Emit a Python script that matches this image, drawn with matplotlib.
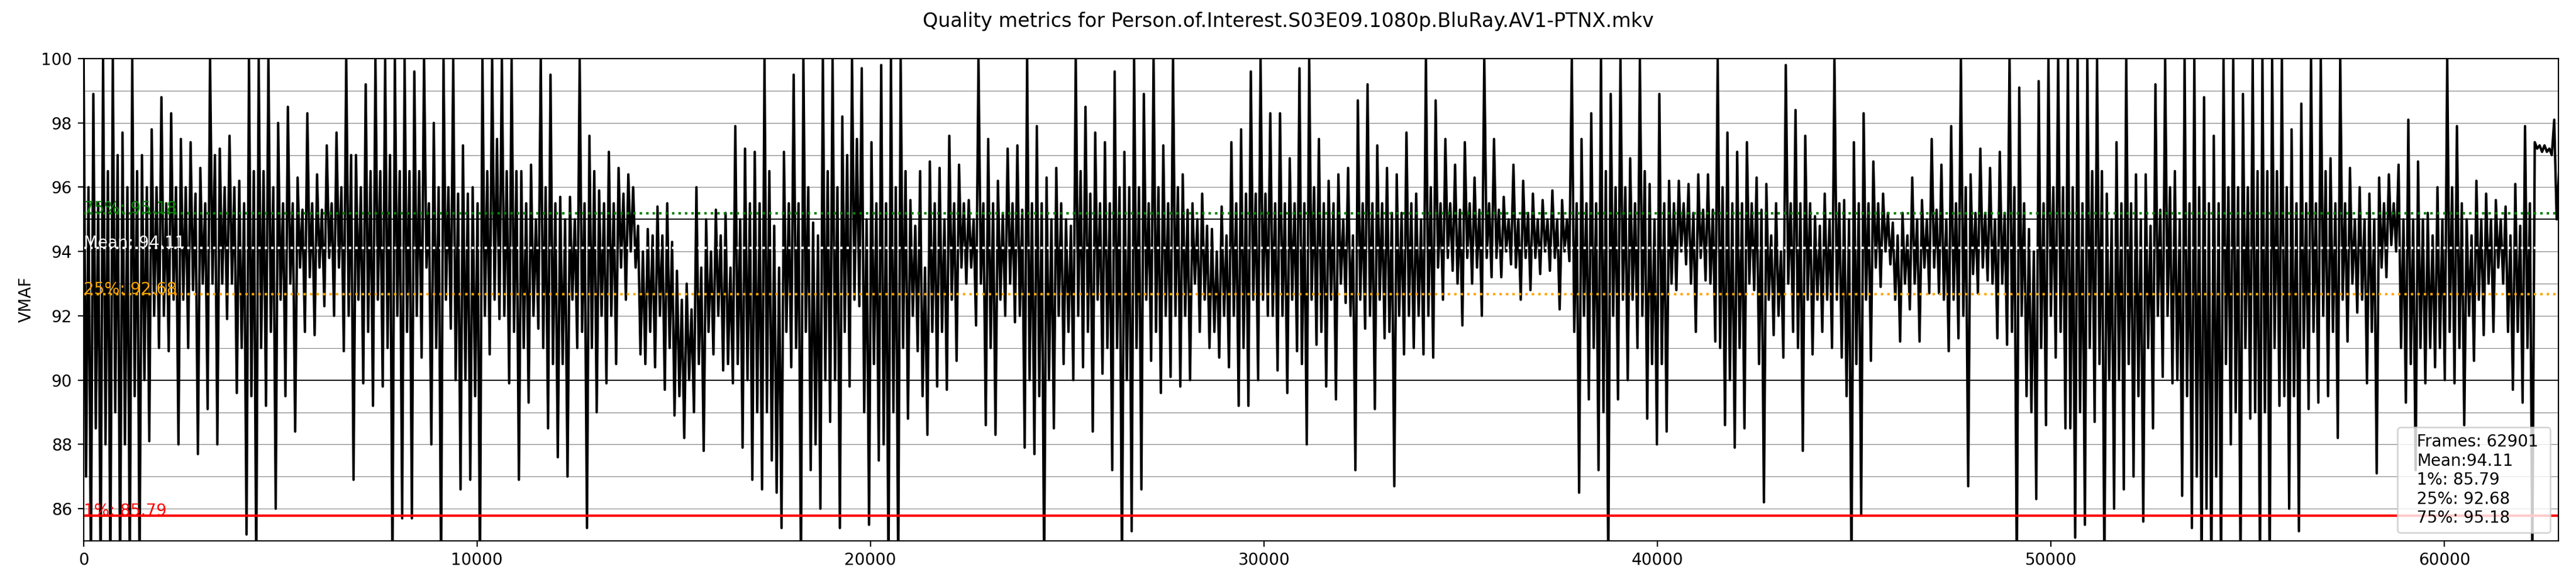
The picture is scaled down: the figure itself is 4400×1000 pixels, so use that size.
import numpy as np
import matplotlib
matplotlib.use('Agg')
import matplotlib.pyplot as plt


## Data
title = 'Quality metrics for Person.of.Interest.S03E09.1080p.BluRay.AV1-PTNX.mkv'
frames = 62901
mean = 94.11
perc_1 = 85.79
perc_25 = 92.68
perc_75 = 95.18

# VMAF trace, one entry per ~247 frame bin:
# spike top, top of the dense band, bottom of the dense band, spike bottom
# (84 = runs below the bottom of the axis)
vmaf_hi = [
    100, 98.9, 100, 100, 97.7, 100, 97.0, 97.8, 98.8, 98.3, 97.5, 97.4, 96.6, 100, 97.2, 97.6,
    96.2, 100, 100, 100, 98.0, 98.5, 96.3, 98.3, 96.4, 97.3, 97.7, 100, 97.0, 99.2, 100,
    100, 100, 100, 99.6, 100, 98.0, 100, 100, 97.3, 96.0, 100, 100, 100, 100, 96.5, 96.7,
    100, 99.5, 95.7, 95.7, 100, 97.6, 95.9, 97.1, 96.6, 96.4, 94.8, 94.7, 95.4, 95.5, 93.4, 93.0,
    96.0, 95.0, 95.3, 95.2, 97.9, 97.2, 97.1, 100, 94.8, 97.1, 99.5, 100, 94.9, 100, 100, 98.2,
    100, 99.7, 97.4, 99.8, 100, 100, 95.6, 96.5, 96.8, 96.6, 97.6, 96.7, 95.6, 100, 97.5, 96.2,
    97.2, 97.3, 100, 97.9, 96.3, 96.6, 95.0, 100, 98.5, 97.7, 97.4, 99.6, 97.1, 100, 98.9, 100,
    97.3, 100, 96.4, 95.5, 95.8, 94.7, 95.4, 97.4, 97.8, 99.6, 100, 98.3, 98.3, 96.9, 99.7, 100,
    97.5, 96.2, 96.4, 96.6, 98.7, 99.2, 97.3, 96.6, 96.4, 97.7, 95.8, 100, 98.7, 97.5, 96.7, 97.4,
    96.3, 100, 97.5, 95.7, 96.7, 96.2, 95.8, 95.6, 95.9, 95.6, 100, 97.5, 98.3, 100, 98.9, 100,
    96.9, 100, 96.1, 98.9, 96.2, 96.2, 96.1, 96.4, 96.4, 100, 97.7, 97.1, 97.4, 96.3, 96.1, 95.5,
    99.8, 98.4, 97.6, 95.1, 95.8, 100, 95.6, 97.4, 98.3, 96.8, 95.8, 94.9, 95.2, 96.3, 95.6, 97.5,
    96.7, 97.9, 100, 96.4, 97.2, 96.6, 97.1, 100, 99.1, 94.7, 99.3, 100, 100, 100, 100, 100,
    100, 95.8, 97.4, 100, 96.4, 96.4, 99.2, 100, 96.5, 100, 100, 98.8, 97.6, 100, 100, 98.9,
    100, 100, 100, 100, 97.8, 98.6, 100, 100, 96.9, 100, 96.6, 96.0, 95.8, 96.3, 96.4, 96.7,
    98.1, 96.8, 95.2, 96.0, 100, 97.9, 95.0, 96.2, 95.8, 95.6, 95.4, 96.1, 97.9, 97.4, 97.3, 98.1,
]
band_hi = [
    96.0, 95.5, 96.5, 97.0, 96.0, 96.5, 96.0, 96.0, 95.5, 96.0, 96.0, 95.8, 95.5, 97.0, 96.0, 96.0,
    95.5, 96.5, 96.5, 96.0, 95.5, 95.5, 95.3, 95.5, 95.3, 95.5, 96.0, 97.0, 96.0, 96.5, 96.5,
    97.0, 96.5, 96.5, 96.5, 95.5, 96.0, 96.0, 95.8, 95.8, 95.5, 96.5, 97.5, 96.5, 96.5, 95.5, 95.0,
    96.0, 95.5, 95.0, 95.0, 95.5, 96.5, 95.5, 95.5, 95.8, 96.0, 94.0, 94.5, 94.5, 94.3, 92.5, 92.2,
    93.5, 94.0, 94.5, 93.5, 95.0, 95.5, 95.5, 96.5, 93.5, 95.5, 95.5, 96.0, 94.5, 96.5, 96.0, 97.0,
    97.5, 95.0, 95.5, 95.5, 96.0, 96.5, 94.8, 93.5, 95.5, 95.0, 95.5, 95.5, 95.0, 95.5, 95.5, 95.2,
    95.5, 95.3, 95.5, 95.5, 95.0, 95.5, 94.8, 96.5, 95.8, 95.5, 95.5, 96.0, 96.0, 96.0, 95.5, 96.0,
    95.5, 96.0, 95.3, 95.0, 94.8, 94.0, 94.5, 95.5, 95.8, 95.8, 95.8, 95.5, 95.5, 95.5, 95.5, 96.0,
    95.5, 95.5, 95.0, 94.5, 95.5, 95.5, 95.5, 95.2, 95.2, 95.5, 95.0, 96.0, 95.5, 95.5, 95.3, 95.5,
    95.3, 95.5, 95.3, 95.0, 95.0, 95.2, 95.0, 95.0, 95.0, 95.0, 95.5, 95.5, 95.5, 96.5, 96.0, 96.0,
    95.5, 96.5, 95.0, 95.5, 95.5, 95.5, 95.2, 95.3, 95.3, 96.0, 95.5, 95.5, 95.5, 95.3, 94.5, 94.0,
    95.5, 95.5, 95.5, 94.8, 95.0, 95.5, 95.0, 95.5, 95.5, 95.5, 95.2, 94.5, 94.5, 95.0, 95.0, 95.3,
    95.0, 95.5, 96.0, 95.2, 95.2, 95.0, 95.2, 96.0, 95.5, 94.0, 95.5, 96.0, 96.0, 96.0, 95.5, 96.5,
    96.5, 95.0, 95.5, 95.5, 95.0, 94.8, 95.3, 96.0, 95.0, 95.5, 96.0, 95.5, 95.5, 96.0, 96.0, 96.0,
    96.5, 96.5, 96.5, 96.0, 95.5, 95.5, 95.5, 96.5, 95.5, 95.5, 95.0, 95.0, 95.0, 95.5, 95.5, 95.0,
    95.0, 95.0, 94.5, 95.0, 96.0, 95.5, 94.5, 95.0, 95.0, 95.0, 94.5, 94.8, 95.5, 97.3, 97.2, 96.5,
]
band_lo = [
    87.0, 88.5, 88.0, 89.0, 88.0, 89.5, 90.0, 92.0, 92.0, 92.5, 92.5, 92.8, 93.0, 93.0, 93.0, 93.0,
    91.0, 89.5, 91.0, 91.5, 92.5, 93.0, 93.5, 93.2, 93.5, 93.8, 93.5, 92.0, 92.5, 91.5, 92.5,
    91.0, 92.0, 91.5, 92.0, 93.5, 91.0, 92.5, 90.0, 90.0, 89.5, 92.0, 92.5, 92.0, 91.5, 91.0, 92.0,
    91.0, 90.5, 90.5, 92.5, 91.5, 91.0, 92.0, 92.0, 93.5, 94.0, 90.8, 91.5, 92.0, 91.0, 89.5, 90.0,
    90.5, 91.5, 92.0, 90.5, 90.5, 90.0, 89.0, 89.0, 86.5, 91.5, 91.0, 91.5, 88.0, 90.0, 90.0, 91.5,
    92.5, 89.0, 90.5, 88.0, 89.0, 91.0, 92.0, 89.5, 91.5, 91.5, 92.5, 93.5, 93.5, 93.0, 91.0, 92.5,
    93.0, 92.0, 90.0, 89.5, 90.0, 92.0, 91.5, 92.0, 91.5, 92.5, 91.0, 91.0, 90.0, 91.0, 92.5, 91.5,
    92.0, 92.0, 92.0, 93.0, 92.5, 91.5, 92.0, 92.0, 91.0, 92.5, 92.5, 92.0, 92.0, 92.5, 90.5, 92.5,
    91.5, 92.5, 93.0, 92.0, 92.5, 92.0, 92.5, 91.5, 92.0, 92.0, 92.0, 92.0, 93.5, 93.8, 93.0, 93.8,
    93.5, 93.8, 93.8, 94.0, 93.5, 93.8, 93.8, 94.0, 93.8, 94.0, 91.5, 92.0, 91.0, 89.0, 92.0, 92.5,
    92.5, 92.0, 90.5, 90.5, 93.0, 94.0, 93.0, 93.8, 93.0, 91.0, 90.0, 91.0, 93.0, 90.5, 92.5, 92.0,
    93.0, 91.0, 92.5, 92.5, 92.5, 92.5, 89.5, 90.5, 92.5, 93.5, 94.0, 92.5, 93.0, 93.0, 93.5, 93.5,
    92.5, 92.5, 92.0, 93.3, 93.5, 93.0, 93.0, 91.5, 92.0, 89.0, 91.0, 92.0, 91.5, 88.5, 89.0, 91.0,
    90.5, 90.0, 90.0, 90.5, 89.5, 91.0, 92.0, 92.0, 90.0, 89.5, 87.0, 86.0, 87.0, 90.5, 89.0, 91.0,
    89.0, 89.0, 91.0, 89.5, 89.5, 91.0, 91.5, 92.0, 91.5, 92.5, 93.0, 92.5, 91.5, 93.5, 94.2, 91.0,
    90.5, 91.0, 91.0, 91.0, 91.5, 91.0, 92.0, 92.5, 93.0, 93.5, 91.5, 91.5, 91.0, 97.2, 97.1, 95.0,
]
vmaf_lo = [
    84, 84, 84, 84, 84, 84, 88.1, 91.0, 90.9, 88.0, 91.0, 87.7, 89.1, 88.0, 91.9, 89.6,
    85.2, 84, 89.2, 86.0, 89.5, 88.4, 91.5, 91.4, 92.3, 92.0, 90.9, 86.9, 89.9, 89.2, 89.8,
    84, 85.7, 85.7, 90.7, 88.0, 84, 91.6, 86.6, 86.9, 84, 90.8, 91.9, 89.9, 86.9, 89.3, 91.6,
    88.5, 87.6, 87.0, 91.0, 85.4, 89.0, 89.9, 90.5, 92.5, 93.5, 90.5, 90.4, 89.7, 88.9, 88.2, 89.0,
    87.8, 90.8, 90.3, 89.9, 87.9, 86.9, 86.6, 87.5, 85.4, 90.4, 84, 87.2, 86.0, 88.7, 85.4, 89.8,
    92.3, 85.5, 87.5, 84, 84, 88.8, 90.9, 88.3, 89.8, 89.7, 90.6, 93.0, 91.7, 88.6, 88.3, 92.0,
    91.8, 87.9, 87.7, 84, 88.5, 90.5, 90.0, 90.4, 88.4, 90.2, 87.2, 84, 85.3, 86.6, 90.6, 89.6,
    90.1, 89.8, 90.0, 91.5, 91.0, 90.7, 90.4, 89.2, 89.2, 90.0, 92.0, 90.3, 89.6, 90.9, 88.0, 91.1,
    89.8, 89.4, 92.4, 87.2, 91.6, 89.1, 91.3, 86.7, 90.8, 91.0, 90.8, 90.7, 92.5, 93.4, 91.7, 93.0,
    92.0, 93.2, 93.2, 93.6, 92.5, 92.8, 93.3, 93.4, 92.2, 93.7, 86.5, 89.4, 87.2, 84, 89.4, 90.0,
    91.0, 88.8, 88.0, 88.4, 92.8, 93.6, 91.5, 93.1, 91.2, 88.6, 87.9, 88.5, 92.8, 86.2, 91.4, 90.7,
    91.5, 87.8, 90.8, 91.5, 91.0, 90.7, 84, 85.8, 90.6, 92.9, 93.6, 91.2, 92.2, 91.2, 92.7, 92.7,
    90.9, 91.3, 86.7, 92.7, 93.1, 91.3, 91.1, 84, 89.5, 86.3, 88.6, 90.7, 88.5, 85.1, 85.5, 88.7,
    84, 86.0, 86.6, 87.0, 85.6, 88.5, 90.1, 89.9, 86.4, 85.4, 84, 84, 84, 88.0, 84, 88.8,
    84, 84, 89.2, 86.0, 85.3, 89.1, 89.3, 89.5, 88.2, 91.2, 92.1, 89.9, 87.1, 93.2, 94.0, 89.3,
    87.2, 89.9, 90.4, 90.0, 89.9, 88.6, 90.6, 91.4, 91.5, 93.0, 89.7, 89.3, 84.5, 97.1, 97.0, 93.8,
]

# zigzag through each bin: spike top -> band bottom -> band top -> spike bottom
vmaf = np.column_stack([vmaf_hi, band_lo, band_hi, vmaf_lo]).ravel()
n_bins = len(vmaf_hi)
bin_frames = 247.2
first_bin = -27
x = first_bin + bin_frames * (np.repeat(np.arange(n_bins), 4)
                              + np.tile([0.125, 0.375, 0.625, 0.875], n_bins))


## Plotting
fig = plt.figure(figsize=(22, 5), dpi=200)
ax = fig.add_subplot(1, 1, 1)
fig.subplots_adjust(left=0.0324, right=0.9932, bottom=0.077, top=0.9)

for i in range(85, 100):
    if i % 5 == 0:
        ax.axhline(i, color='black', linewidth=0.7)
    else:
        ax.axhline(i, color='grey', linewidth=0.4)

label = (f'Frames: {frames} \nMean:{mean:.2f}\n1%: {perc_1:.2f}'
         f'\n25%: {perc_25:.2f}\n75%: {perc_75:.2f}')
ax.plot(x, vmaf, color='black', linewidth=1.5, label=label)

ax.axhline(perc_1, color='red')
ax.text(0, perc_1, f'1%: {perc_1:.2f}', color='red')
ax.axhline(perc_25, color='orange', linestyle=':')
ax.text(0, perc_25, f'25%: {perc_25:.2f}', color='orange')
ax.axhline(mean, color='white', linestyle=':')
ax.text(0, mean, f'Mean: {mean:.2f}', color='white')
ax.axhline(perc_75, color='green', linestyle=':')
ax.text(0, perc_75, f'75%: {perc_75:.2f}', color='green')

ax.set_ylabel('VMAF')
ax.set_xlim(0, frames)
ax.set_ylim(85, 100)
ax.legend(loc='lower right', handlelength=0, fancybox=True)
fig.suptitle(title)

fig.savefig('out.png')
